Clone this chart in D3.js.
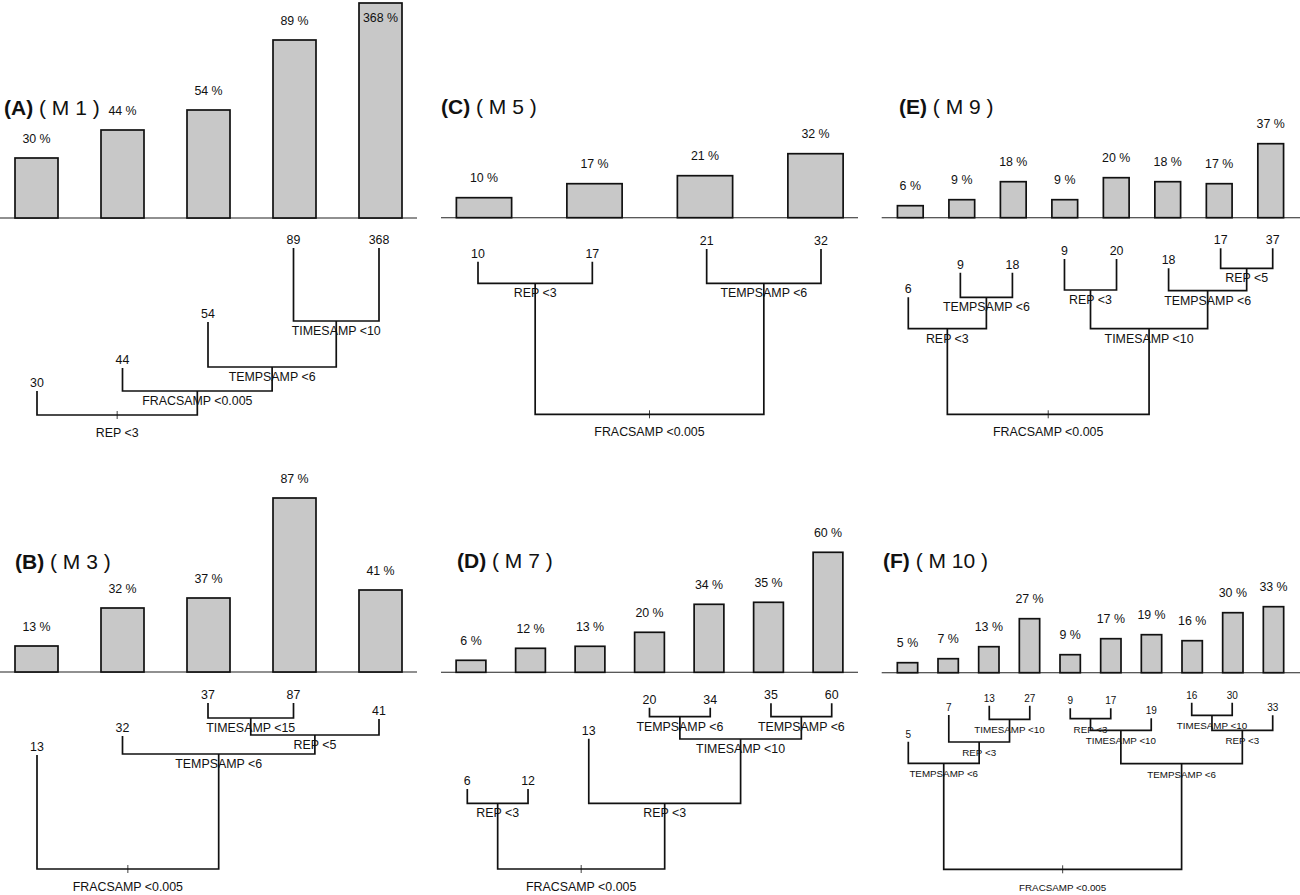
<!DOCTYPE html>
<html><head><meta charset="utf-8">
<script src="https://cdn.jsdelivr.net/npm/d3@7"></script>
<style>
html,body{margin:0;padding:0;background:#fff;}
svg{display:block;}
text{font-family:"Liberation Sans",Arial,Helvetica,sans-serif;fill:#111;}
</style>
</head><body>
<svg id="chart" width="1300" height="895"></svg>
<script>
// ---------- DATA ----------
const panelIds = ["A", "B", "C", "D", "E", "F"];
const models = ["M 1", "M 3", "M 5", "M 7", "M 9", "M 10"];

const valuesA = [30, 44, 54, 89, 368];
const valuesB = [13, 32, 37, 87, 41];
const valuesC = [10, 17, 21, 32];
const valuesD = [6, 12, 13, 20, 34, 35, 60];
const valuesE = [6, 9, 18, 9, 20, 18, 17, 37];
const valuesF = [5, 7, 13, 27, 9, 17, 19, 16, 30, 33];

// tree nodes: split(label, height, left, right) / leaf(barIndex, height)
const S = (label, h, l, r) => ({label, h, l, r});
const L = (i, h) => ({i, h});

const treeA = S("REP <3", 0, L(0, 24),
  S("FRACSAMP <0.005", 24, L(1, 47),
    S("TEMPSAMP <6", 48, L(2, 93),
      S("TIMESAMP <10", 94, L(3, 167), L(4, 167)))));

const treeB = S("FRACSAMP <0.005", 0, L(0, 114),
  S("TEMPSAMP <6", 115, L(1, 133),
    S("REP <5", 134,
      S("TIMESAMP <15", 151, L(2, 166), L(3, 166)),
      L(4, 150))));

const treeC = S("FRACSAMP <0.005", 0,
  S("REP <3", 131, L(0, 152.6), L(1, 152.6)),
  S("TEMPSAMP <6", 131, L(2, 165.3), L(3, 165.3)));

const treeD = S("FRACSAMP <0.005", 0,
  S("REP <3", 65.7, L(0, 80), L(1, 80)),
  S("REP <3", 65.7, L(2, 130.3),
    S("TIMESAMP <10", 130,
      S("TEMPSAMP <6", 152.3, L(3, 161.3), L(4, 161.3)),
      S("TEMPSAMP <6", 152.3, L(5, 165.7), L(6, 165.7)))));

const treeE = S("FRACSAMP <0.005", 0,
  S("REP <3", 85.6, L(0, 117),
    S("TEMPSAMP <6", 117, L(1, 141.6), L(2, 141.6))),
  S("TIMESAMP <10", 85.6,
    S("REP <3", 124.3, L(3, 155.3), L(4, 155.3)),
    S("TEMPSAMP <6", 123.6, L(5, 146),
      S("REP <5", 146, L(6, 166), L(7, 166)))));

const treeF = S("FRACSAMP <0.005", 0,
  S("TEMPSAMP <6", 106, L(0, 127.6),
    S("REP <3", 127.3, L(1, 154.3),
      S("TIMESAMP <10", 150, L(2, 163.6), L(3, 163.6)))),
  S("TEMPSAMP <6", 105.6,
    S("TIMESAMP <10", 139,
      S("REP <3", 150.6, L(4, 161), L(5, 161)),
      L(6, 151)),
    S("REP <3", 139,
      S("TIMESAMP <10", 154, L(7, 166.6), L(8, 166.6)),
      L(9, 154))));

// ---------- LAYOUT ----------
const layouts = [
  {bar:[36.5, 380.5], base:218,   axis:[0, 417],      leaf:[37, 379],       root:415,   title:[4, 115],    tfs:12.4, lfs:12.4},
  {bar:[36.5, 380.5], base:672,   axis:[0, 417],      leaf:[37, 379],       root:869,   title:[15, 568.5], tfs:12.4, lfs:12.4},
  {bar:[484, 815.5],  base:217.7, axis:[441, 858],    leaf:[478, 821],      root:414.3, title:[441, 114.3],tfs:12.4, lfs:12.4},
  {bar:[471, 828],    base:672.3, axis:[441, 858],    leaf:[467.3, 831.7],  root:869,   title:[457, 568.3],tfs:12.4, lfs:12.4},
  {bar:[910.3, 1270.7], base:217.7, axis:[881.7, 1300], leaf:[908.3, 1272.7], root:414.3, title:[899, 114.3], tfs:12.4, lfs:12.4},
  {bar:[907.5, 1273.5], base:672.7, axis:[881.7, 1300], leaf:[908.3, 1272.7], root:869.3, title:[883, 567.7], tfs:9.8, lfs:10}
];
const allValues = [valuesA, valuesB, valuesC, valuesD, valuesE, valuesF];
const allTrees = [treeA, treeB, treeC, treeD, treeE, treeF];

const barMax = 107.5;      // visible bar range (%)
const pxPerPct = 2;
const treeMax = 170;
const ink = "#111";

const svg = d3.select("#chart");
svg.append("rect").attr("width", 1300).attr("height", 895).attr("fill", "#fff");

panelIds.forEach((id, k) => {
  const Lo = layouts[k];
  const values = allValues[k];
  const tree = allTrees[k];
  const g = svg.append("g");
  const idx = d3.range(values.length);

  // bars
  const xb = d3.scalePoint().domain(idx).range(Lo.bar);
  const bw = xb.step() / 2;
  const yb = d3.scaleLinear().domain([0, barMax])
    .range([Lo.base, Lo.base - barMax * pxPerPct]).clamp(true);

  g.append("line")
    .attr("x1", Lo.axis[0]).attr("x2", Lo.axis[1])
    .attr("y1", Lo.base).attr("y2", Lo.base)
    .attr("stroke", "#222").attr("stroke-width", 1.1);

  g.selectAll("rect.bar").data(values).join("rect")
    .attr("class", "bar")
    .attr("x", (d, i) => xb(i) - bw / 2)
    .attr("y", d => yb(d))
    .attr("width", bw)
    .attr("height", d => Lo.base - yb(d))
    .attr("fill", "#c8c8c8")
    .attr("stroke", ink).attr("stroke-width", 1.7);

  g.selectAll("text.blab").data(values).join("text")
    .attr("class", "blab")
    .attr("x", (d, i) => xb(i))
    .attr("y", d => d > barMax ? yb(d) + 19.4 : yb(d) - 15.5)
    .attr("text-anchor", "middle")
    .attr("font-size", 12.4)
    .text(d => d + " %");

  // title
  const t = g.append("text").attr("x", Lo.title[0]).attr("y", Lo.title[1])
    .attr("font-size", 21);
  t.append("tspan").attr("font-weight", "bold").text("(" + id + ")");
  t.append("tspan").text(" ( " + models[k] + " )");

  // tree
  const xt = d3.scalePoint().domain(idx).range(Lo.leaf);
  const yt = d3.scaleLinear().domain([0, treeMax]).range([Lo.root, Lo.root - treeMax]);

  const splits = [], leaves = [];
  (function place(node) {
    if (node.i !== undefined) { node.x = xt(node.i); leaves.push(node); return; }
    place(node.l); place(node.r);
    node.x = (node.l.x + node.r.x) / 2;
    splits.push(node);
  })(tree);

  g.selectAll("path.branch").data(splits).join("path")
    .attr("class", "branch")
    .attr("d", n => {
      const p = d3.path();
      p.moveTo(n.l.x, yt(n.l.h));
      p.lineTo(n.l.x, yt(n.h));
      p.lineTo(n.r.x, yt(n.h));
      p.lineTo(n.r.x, yt(n.r.h));
      return p.toString();
    })
    .attr("fill", "none").attr("stroke", ink).attr("stroke-width", 1.7)
    .attr("stroke-linejoin", "miter");

  // root tick
  g.append("line")
    .attr("x1", tree.x).attr("x2", tree.x)
    .attr("y1", yt(tree.h) - 4).attr("y2", yt(tree.h) + 4)
    .attr("stroke", ink).attr("stroke-width", 0.8);

  g.selectAll("text.split").data(splits).join("text")
    .attr("class", "split")
    .attr("x", n => n.x)
    .attr("y", n => yt(n.h) + (n === tree ? 21.6 : 13.8))
    .attr("text-anchor", "middle")
    .attr("font-size", Lo.tfs)
    .text(n => n.label);

  g.selectAll("text.leaf").data(leaves).join("text")
    .attr("class", "leaf")
    .attr("x", n => n.x)
    .attr("y", n => yt(n.h) - 4)
    .attr("text-anchor", "middle")
    .attr("font-size", Lo.lfs)
    .text(n => values[n.i]);
});
</script>
</body></html>
